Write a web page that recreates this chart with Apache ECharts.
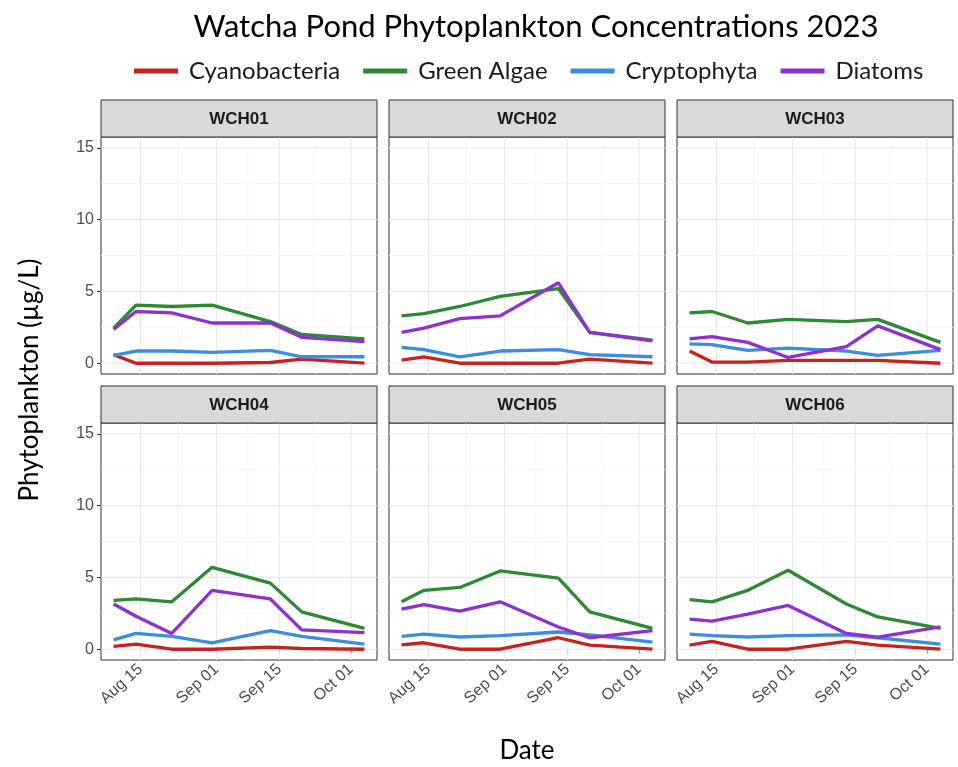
<!DOCTYPE html>
<html>
<head>
<meta charset="utf-8">
<script src="https://cdn.jsdelivr.net/npm/echarts@6/dist/echarts.min.js"></script>
<style>
  html, body { margin: 0; padding: 0; background: #ffffff; }
  #chart { width: 958px; height: 767px; }
</style>
</head>
<body>
<div id="chart"></div>
<script>
// Sampling dates (same for every station)
const sampleDates = ['2023-08-09', '2023-08-14', '2023-08-22', '2023-08-31', '2023-09-13', '2023-09-20', '2023-10-04'];

// Station panels, in facet order
const stations = ['WCH01', 'WCH02', 'WCH03', 'WCH04', 'WCH05', 'WCH06'];

// Phytoplankton groups (µg/L); one row per station, one value per sampling date
const cyanobacteria = [
  [0.60, 0.00, 0.00, 0.00, 0.05, 0.28, 0.00],
  [0.22, 0.45, 0.00, 0.00, 0.00, 0.28, 0.00],
  [0.85, 0.08, 0.08, 0.20, 0.20, 0.20, 0.00],
  [0.20, 0.35, 0.00, 0.00, 0.15, 0.05, 0.00],
  [0.30, 0.45, 0.00, 0.00, 0.80, 0.28, 0.00],
  [0.28, 0.55, 0.00, 0.00, 0.55, 0.28, 0.00]
];
const greenAlgae = [
  [2.45, 4.05, 3.95, 4.05, 2.90, 2.00, 1.70],
  [3.30, 3.45, 3.95, 4.65, 5.20, 2.15, 1.60],
  [3.50, 3.60, 2.80, 3.05, 2.90, 3.05, 1.45],
  [3.40, 3.50, 3.30, 5.70, 4.60, 2.60, 1.45],
  [3.30, 4.10, 4.30, 5.45, 4.95, 2.60, 1.45],
  [3.45, 3.30, 4.10, 5.50, 3.15, 2.25, 1.45]
];
const cryptophyta = [
  [0.55, 0.85, 0.85, 0.75, 0.90, 0.45, 0.45],
  [1.10, 0.95, 0.45, 0.85, 0.95, 0.60, 0.45],
  [1.35, 1.30, 0.90, 1.05, 0.85, 0.55, 0.90],
  [0.65, 1.10, 0.90, 0.45, 1.30, 0.90, 0.35],
  [0.90, 1.05, 0.85, 0.95, 1.20, 1.00, 0.50],
  [1.05, 0.95, 0.85, 0.95, 1.00, 0.80, 0.35]
];
const diatoms = [
  [2.35, 3.60, 3.50, 2.80, 2.80, 1.80, 1.50],
  [2.15, 2.45, 3.10, 3.30, 5.60, 2.15, 1.55],
  [1.70, 1.85, 1.45, 0.40, 1.15, 2.60, 0.95],
  [3.15, 2.30, 1.10, 4.10, 3.50, 1.35, 1.15],
  [2.80, 3.10, 2.65, 3.30, 1.55, 0.80, 1.30],
  [2.10, 1.95, 2.45, 3.05, 1.10, 0.85, 1.55]
];

// Axis breaks
const dateTicks = ['2023-08-15', '2023-09-01', '2023-09-15', '2023-10-01'];
const dateTickLabels = ['Aug 15', 'Sep 01', 'Sep 15', 'Oct 01'];
const yTicks = [0, 5, 10, 15];
const yLimits = [0, 15];

const groupNames = ['Cyanobacteria', 'Green Algae', 'Cryptophyta', 'Diatoms'];
const groupValues = [cyanobacteria, greenAlgae, cryptophyta, diatoms];
const groupColors = ['#C9211E', '#2E8A32', '#3A8EE0', '#9130D0'];

// Dates become day numbers counted from 1 August
const DAY = 86400000;
const origin = Date.parse('2023-08-01');
const dayOf = iso => (Date.parse(iso) - origin) / DAY;
const xDays = sampleDates.map(dayOf);
const tickDays = dateTicks.map(dayOf);

// 5 % padding on each side, like a ggplot continuous scale
const xSpan = xDays[xDays.length - 1] - xDays[0];
const xMin = xDays[0] - 0.05 * xSpan;
const xMax = xDays[xDays.length - 1] + 0.05 * xSpan;
const ySpan = yLimits[1] - yLimits[0];
const yMin = yLimits[0] - 0.05 * ySpan;
const yMax = yLimits[1] + 0.05 * ySpan;

// Minor breaks sit halfway between the major ones
const minorDays = [];
for (let i = 0; i < tickDays.length - 1; i++) minorDays.push((tickDays[i] + tickDays[i + 1]) / 2);
const minorY = [];
for (let i = 0; i < yTicks.length - 1; i++) minorY.push((yTicks[i] + yTicks[i + 1]) / 2);

// Panel layout (3 columns x 2 rows)
const panelLefts = [101, 389, 677];
const panelWidth = 276;
const stripTops = [100, 386];
const stripHeight = 37;
const plotTops = [137, 423];
const plotHeight = 237;

const grids = [], xAxes = [], yAxes = [], series = [], graphics = [];
const labelFont = 'Liberation Sans';
const textFont = 'Lato';

stations.forEach((name, p) => {
  const col = p % 3, row = Math.floor(p / 3);
  const left = panelLefts[col];
  grids.push({
    left: left, top: plotTops[row], width: panelWidth, height: plotHeight,
    show: true, backgroundColor: '#ffffff', borderColor: '#333333', borderWidth: 1,
    containLabel: false
  });
  const bottomRow = row === 1, leftCol = col === 0;
  xAxes.push({
    type: 'value', gridIndex: p, min: xMin, max: xMax,
    axisLine: { show: false },
    splitLine: { show: false },
    axisTick: { show: bottomRow, customValues: tickDays, length: 4, lineStyle: { color: '#333333', width: 1 } },
    axisLabel: {
      show: bottomRow, customValues: tickDays, rotate: 42, margin: 7,
      color: '#4D4D4D', fontSize: 16, fontFamily: labelFont,
      formatter: v => dateTickLabels[tickDays.indexOf(v)] || ''
    }
  });
  yAxes.push({
    type: 'value', gridIndex: p, min: yMin, max: yMax,
    axisLine: { show: false },
    splitLine: { show: false },
    axisTick: { show: leftCol, customValues: yTicks, length: 4, lineStyle: { color: '#333333', width: 1 } },
    axisLabel: {
      show: leftCol, customValues: yTicks, margin: 7,
      color: '#4D4D4D', fontSize: 16, fontFamily: labelFont
    }
  });

  // Panel grid lines
  const gridData = [];
  tickDays.forEach(d => gridData.push([0, d, 1]));
  minorDays.forEach(d => gridData.push([0, d, 0]));
  yTicks.forEach(v => gridData.push([1, v, 1]));
  minorY.forEach(v => gridData.push([1, v, 0]));
  series.push({
    type: 'custom', xAxisIndex: p, yAxisIndex: p, silent: true, z: 1,
    data: gridData,
    encode: { x: 1, y: 1 },
    renderItem: (params, api) => {
      const o = api.value(0), v = api.value(1), major = api.value(2);
      const a = o === 0 ? api.coord([v, yMin]) : api.coord([xMin, v]);
      const b = o === 0 ? api.coord([v, yMax]) : api.coord([xMax, v]);
      return {
        type: 'line',
        shape: { x1: a[0], y1: a[1], x2: b[0], y2: b[1] },
        style: { stroke: major ? '#E8E8E8' : '#F3F3F3', lineWidth: major ? 1.1 : 0.8 }
      };
    }
  });

  // One line per phytoplankton group
  groupNames.forEach((g, k) => {
    series.push({
      name: g, type: 'line', xAxisIndex: p, yAxisIndex: p, z: 3,
      data: xDays.map((d, i) => [d, groupValues[k][p][i]]),
      showSymbol: false, symbol: 'none', smooth: false, silent: true,
      lineStyle: { color: groupColors[k], width: 3.3 },
      itemStyle: { color: groupColors[k] },
      animation: false
    });
  });

  // Facet strip
  graphics.push({
    type: 'rect', z: 10,
    shape: { x: left, y: stripTops[row], width: panelWidth, height: stripHeight },
    style: { fill: '#D9D9D9', stroke: '#333333', lineWidth: 1 }
  });
  graphics.push({
    type: 'text', z: 11,
    x: left + panelWidth / 2, y: stripTops[row] + stripHeight / 2 + 1,
    style: {
      text: name, fill: '#1A1A1A', font: 'bold 17px "Liberation Sans"',
      align: 'center', verticalAlign: 'middle'
    }
  });
});

// Axis titles
graphics.push({
  type: 'text', x: 30, y: 380, rotation: Math.PI / 2,
  style: { text: 'Phytoplankton (µg/L)', fill: '#000000', font: '26px Lato', align: 'center', verticalAlign: 'middle' }
});
graphics.push({
  type: 'text', x: 527, y: 751,
  style: { text: 'Date', fill: '#000000', font: '26px Lato', align: 'center', verticalAlign: 'middle' }
});

const chart = echarts.init(document.getElementById('chart'), null, { renderer: 'canvas' });
chart.setOption({
  backgroundColor: '#ffffff',
  animation: false,
  title: {
    text: 'Watcha Pond Phytoplankton Concentrations 2023',
    left: 536, top: 11, padding: 0, textAlign: 'center',
    textStyle: { fontFamily: textFont, fontSize: 31, fontWeight: 'normal', color: '#000000' }
  },
  legend: {
    data: groupNames, left: 134, top: 59, padding: 0,
    icon: 'rect', itemWidth: 44, itemHeight: 5, itemGap: 23,
    selectedMode: false,
    textStyle: { fontFamily: textFont, fontSize: 24, color: '#1A1A1A', padding: [0, 0, 0, 6] }
  },
  grid: grids,
  xAxis: xAxes,
  yAxis: yAxes,
  series: series,
  graphic: graphics
});
</script>
</body>
</html>
